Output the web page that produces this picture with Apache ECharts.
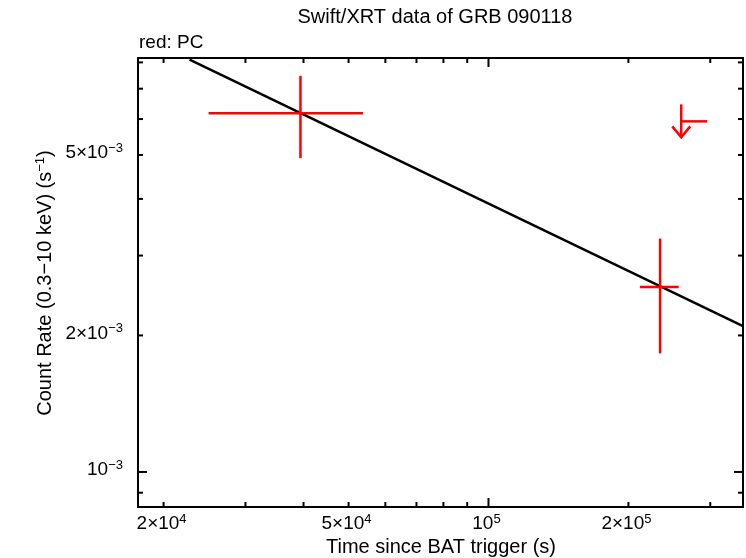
<!DOCTYPE html>
<html><head><meta charset="utf-8">
<script src="https://cdn.jsdelivr.net/npm/echarts@6/dist/echarts.min.js"></script>
<style>html,body{margin:0;padding:0;background:#fff}#c{width:746px;height:558px}</style>
</head><body><div id="c"></div>
<script>
// ---- data ----
const pcTime   = [39400, 234000];
const pcTimeLo = [25000, 211700];
const pcTimeHi = [53700, 256500];
const pcRate   = [0.00618, 0.002557];
const pcRateLo = [0.00492, 0.001826];
const pcRateHi = [0.00747, 0.00327];
const ulTime   = [259800];
const ulTimeHi = [295500];
const ulRate   = [0.00593];
const fitTime  = [22750, 352800];
const fitRate  = [0.00811, 0.002097];
const xMin = 17620, xMax = 352800, yMin = 0.000837, yMax = 0.00818;
const xMinorTicks = [2e4,3e4,4e4,5e4,6e4,7e4,8e4,9e4,2e5,3e5];
const xMajorTicks = [1e5];
const yMinorTicks = [9e-4,2e-3,3e-3,4e-3,5e-3,6e-3,7e-3,8e-3];
const yMajorTicks = [1e-3];
const xLabelValues = [2e4, 5e4, 1e5, 2e5];
const xLabelMant   = ['2×', '5×', '', '2×'];
const xLabelExp    = ['4', '4', '5', '5'];
const yLabelValues = [1e-3, 2e-3, 5e-3];
const yLabelMant   = ['', '2×', '5×'];
const yLabelExp    = ['−3', '−3', '−3'];

const FONT = 'Liberation Sans, Arial, Helvetica, sans-serif';
const RED = '#ff0000';
const chart = echarts.init(document.getElementById('c'), null, {renderer: 'canvas'});

const pcData = pcTime.map((t, i) => [t, pcTimeLo[i], pcTimeHi[i], pcRate[i], pcRateLo[i], pcRateHi[i]]);
const ulData = ulTime.map((t, i) => [t, ulTimeHi[i], ulRate[i]]);

const tickData = [];
xMinorTicks.forEach(v => tickData.push([0, v, 0]));
xMajorTicks.forEach(v => tickData.push([0, v, 1]));
yMinorTicks.forEach(v => tickData.push([1, v, 0]));
yMajorTicks.forEach(v => tickData.push([1, v, 1]));
const labelData = [];
xLabelValues.forEach((v, i) => labelData.push([0, v, i]));
yLabelValues.forEach((v, i) => labelData.push([1, v, i]));

const richSup = {
  base: {fontSize: 19, fontFamily: FONT, color: '#000'},
  sup: {fontSize: 13, fontFamily: FONT, color: '#000', verticalAlign: 'top', padding: [0, 0, 10, 0]}
};

chart.setOption({
  animation: false,
  backgroundColor: '#fff',
  grid: {left: 138, right: 3, top: 58, bottom: 51, show: true, borderColor: '#000', borderWidth: 2, backgroundColor: 'transparent'},
  xAxis: {type: 'log', logBase: 10, min: xMin, max: xMax, axisLine: {show: false}, axisTick: {show: false}, axisLabel: {show: false}, splitLine: {show: false}},
  yAxis: {type: 'log', logBase: 10, min: yMin, max: yMax, axisLine: {show: false}, axisTick: {show: false}, axisLabel: {show: false}, splitLine: {show: false}},
  graphic: [
    {type: 'text', x: 435, y: 17, style: {text: 'Swift/XRT data of GRB 090118', font: '20px ' + FONT, fill: '#000', textAlign: 'center', textVerticalAlign: 'middle'}},
    {type: 'text', x: 139, y: 43, style: {text: 'red: PC', font: '19px ' + FONT, fill: '#000', textAlign: 'left', textVerticalAlign: 'middle'}},
    {type: 'text', x: 441, y: 547, style: {text: 'Time since BAT trigger (s)', font: '20px ' + FONT, fill: '#000', textAlign: 'center', textVerticalAlign: 'middle'}},
    {type: 'text', x: 45, y: 283, rotation: Math.PI / 2,
     style: {text: '{b|Count Rate (0.3−10 keV) (s}{s|−1}{b|)}', textAlign: 'center', textVerticalAlign: 'middle',
       rich: {b: {fontSize: 20, fontFamily: FONT, color: '#000'}, s: {fontSize: 13, fontFamily: FONT, color: '#000', verticalAlign: 'top', padding: [0, 0, 10, 0]}}}}
  ],
  series: [
    {
      type: 'line', data: fitTime.map((t, i) => [t, fitRate[i]]), symbol: 'none',
      lineStyle: {color: '#000', width: 2.5}, clip: true, z: 3
    },
    {
      type: 'custom', data: pcData, encode: {x: 0, y: 3}, z: 4, clip: true,
      renderItem: function (params, api) {
        const c = api.coord([api.value(0), api.value(3)]);
        const l = api.coord([api.value(1), api.value(3)]);
        const r = api.coord([api.value(2), api.value(3)]);
        const lo = api.coord([api.value(0), api.value(4)]);
        const hi = api.coord([api.value(0), api.value(5)]);
        const st = {stroke: RED, lineWidth: 2.5};
        return {type: 'group', children: [
          {type: 'line', shape: {x1: l[0], y1: c[1], x2: r[0], y2: c[1]}, style: st},
          {type: 'line', shape: {x1: c[0], y1: lo[1], x2: c[0], y2: hi[1]}, style: st}
        ]};
      }
    },
    {
      type: 'custom', data: ulData, encode: {x: 0, y: 2}, z: 4, clip: true,
      renderItem: function (params, api) {
        const c = api.coord([api.value(0), api.value(2)]);
        const r = api.coord([api.value(1), api.value(2)]);
        const st = {stroke: RED, lineWidth: 2.5, fill: null};
        return {type: 'group', children: [
          {type: 'line', shape: {x1: c[0], y1: c[1], x2: r[0], y2: c[1]}, style: st},
          {type: 'line', shape: {x1: c[0], y1: c[1] - 17, x2: c[0], y2: c[1] + 16}, style: st},
          {type: 'polyline', shape: {points: [[c[0] - 9, c[1] + 5], [c[0], c[1] + 16], [c[0] + 9, c[1] + 5]]}, style: st}
        ]};
      }
    },
    {
      type: 'custom', data: tickData, z: 5, silent: true,
      renderItem: function (params, api) {
        const cs = params.coordSys;
        const axis = api.value(0), v = api.value(1), major = api.value(2);
        const st = {stroke: '#000', lineWidth: 2};
        const len = major ? 9 : 5;
        if (axis === 0) {
          const x = api.coord([v, yMin])[0];
          return {type: 'group', children: [
            {type: 'line', shape: {x1: x, y1: cs.y + cs.height, x2: x, y2: cs.y + cs.height - len}, style: st},
            {type: 'line', shape: {x1: x, y1: cs.y, x2: x, y2: cs.y + len}, style: st}
          ]};
        } else {
          const y = api.coord([xMin, v])[1];
          return {type: 'group', children: [
            {type: 'line', shape: {x1: cs.x, y1: y, x2: cs.x + len, y2: y}, style: st},
            {type: 'line', shape: {x1: cs.x + cs.width, y1: y, x2: cs.x + cs.width - len, y2: y}, style: st}
          ]};
        }
      }
    },
    {
      type: 'custom', data: labelData, z: 5, silent: true, clip: false,
      renderItem: function (params, api) {
        const cs = params.coordSys;
        const axis = api.value(0), v = api.value(1), i = api.value(2);
        if (axis === 0) {
          const x = api.coord([v, yMin])[0];
          const txt = (xLabelMant[i] ? '{base|' + xLabelMant[i] + '}' : '') + '{base|10}{sup|' + xLabelExp[i] + '}';
          return {type: 'text', x: x - 2, y: cs.y + cs.height + 17,
            style: {text: txt, rich: richSup, textAlign: 'center', textVerticalAlign: 'middle'}};
        } else {
          const y = api.coord([xMin, v])[1];
          const txt = (yLabelMant[i] ? '{base|' + yLabelMant[i] + '}' : '') + '{base|10}{sup|' + yLabelExp[i] + '}';
          return {type: 'text', x: cs.x - 15, y: y - 2,
            style: {text: txt, rich: richSup, textAlign: 'right', textVerticalAlign: 'middle'}};
        }
      }
    }
  ]
});
</script>
</body></html>
